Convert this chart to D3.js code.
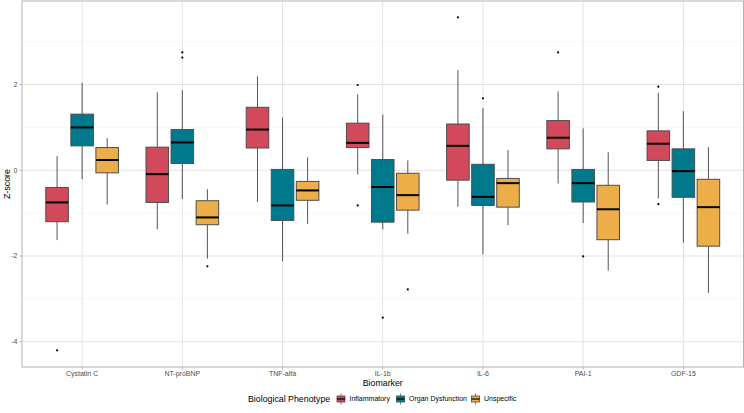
<!DOCTYPE html>
<html><head><meta charset="utf-8">
<script src="https://cdn.jsdelivr.net/npm/d3@7"></script>
<style>body{margin:0;background:#fff;}svg{display:block;font-family:"Liberation Sans",Arial,sans-serif;}</style>
</head><body><svg id="c" width="744" height="413"></svg>
<script>
const categories = ["Cystatin C","NT-proBNP","TNF-alfa","IL-1b","IL-6","PAI-1","GDF-15"];
const groups = ["Inflammatory","Organ Dysfunction","Unspecific"];
const colors = ["#D1495B","#00798C","#EDAE49"];
const yTicks = [-4,-2,0,2];
const yMinor = [-3,-1,1,3];
// stats per category: [lower whisker, q1, median, q3, upper whisker]
const inflammatory = [
  [-1.63,-1.20,-0.75,-0.40,0.33],
  [-1.38,-0.75,-0.09,0.54,1.82],
  [-0.74,0.52,0.95,1.47,2.19],
  [-0.10,0.53,0.64,1.10,1.77],
  [-0.85,-0.23,0.57,1.08,2.34],
  [-0.31,0.50,0.76,1.16,1.84],
  [-0.66,0.23,0.62,0.92,1.81]
];
const organDysfunction = [
  [-0.21,0.57,1.00,1.31,2.04],
  [-0.67,0.16,0.65,0.95,1.87],
  [-2.12,-1.17,-0.82,0.02,1.23],
  [-1.38,-1.21,-0.39,0.25,1.30],
  [-1.96,-0.82,-0.62,0.14,1.45],
  [-1.23,-0.74,-0.30,0.02,0.98],
  [-1.69,-0.63,-0.02,0.50,1.38]
];
const unspecific = [
  [-0.80,-0.06,0.24,0.53,0.75],
  [-2.06,-1.27,-1.10,-0.71,-0.44],
  [-1.25,-0.70,-0.47,-0.26,0.30],
  [-1.48,-0.93,-0.58,-0.07,0.23],
  [-1.28,-0.86,-0.30,-0.19,0.47],
  [-2.34,-1.62,-0.91,-0.35,0.42],
  [-2.86,-1.77,-0.86,-0.21,0.54]
];
const inflammatoryOutliers = [[-4.2],[],[],[1.99,-0.82],[3.57],[2.75],[1.95,-0.79]];
const organOutliers = [[],[2.75,2.63],[],[-3.44],[1.68],[-2.01],[]];
const unspecificOutliers = [[],[-2.24],[],[-2.78],[],[],[]];

const stats = [inflammatory, organDysfunction, unspecific];
const outs = [inflammatoryOutliers, organOutliers, unspecificOutliers];

const svg = d3.select("#c");
const L = 22, R = 743.5, T = 1, B = 367;
const x = d3.scalePoint().domain(categories).range([L, R]).padding(0.6);
const step = x.step();
const xg = d3.scaleBand().domain(groups).range([-step*0.375, step*0.375]);
const bw = xg.bandwidth()*0.9;
const y = d3.scaleLinear().domain([-4.59, 3.95]).range([B, T]);

// grid
const g = svg.append("g");
g.selectAll(".mn").data(yMinor).join("line")
  .attr("x1",L).attr("x2",R).attr("y1",d=>y(d)).attr("y2",d=>y(d))
  .attr("stroke","#EFEFEF").attr("stroke-width",0.5);
g.selectAll(".mj").data(yTicks).join("line")
  .attr("x1",L).attr("x2",R).attr("y1",d=>y(d)).attr("y2",d=>y(d))
  .attr("stroke","#E3E3E3").attr("stroke-width",1);
g.selectAll(".vx").data(categories).join("line")
  .attr("x1",d=>x(d)).attr("x2",d=>x(d)).attr("y1",T).attr("y2",B)
  .attr("stroke","#E3E3E3").attr("stroke-width",1);

// boxes
groups.forEach((grp, gi) => {
  const gg = svg.append("g");
  categories.forEach((cat, ci) => {
    const s = stats[gi][ci];
    const cx = x(cat) + xg(grp) + xg.bandwidth()/2;
    gg.append("line").attr("x1",cx).attr("x2",cx).attr("y1",y(s[4])).attr("y2",y(s[3]))
      .attr("stroke","#555").attr("stroke-width",1);
    gg.append("line").attr("x1",cx).attr("x2",cx).attr("y1",y(s[1])).attr("y2",y(s[0]))
      .attr("stroke","#555").attr("stroke-width",1);
    gg.append("rect").attr("x",cx-bw/2).attr("width",bw).attr("y",y(s[3])).attr("height",y(s[1])-y(s[3]))
      .attr("fill",colors[gi]).attr("stroke","#4D4D4D").attr("stroke-width",1);
    gg.append("line").attr("x1",cx-bw/2).attr("x2",cx+bw/2).attr("y1",y(s[2])).attr("y2",y(s[2]))
      .attr("stroke","#000").attr("stroke-width",2);
    outs[gi][ci].forEach(v => {
      gg.append("circle").attr("cx",cx).attr("cy",y(v)).attr("r",1.1).attr("fill","#000");
    });
  });
});

// border
svg.append("rect").attr("x",L).attr("y",T).attr("width",R-L).attr("height",B-T)
  .attr("fill","none").attr("stroke","#B3B3B3").attr("stroke-width",1);

// axes ticks and labels
svg.selectAll(".yt").data(yTicks).join("line").attr("x1",L-2.5).attr("x2",L).attr("y1",d=>y(d)).attr("y2",d=>y(d))
  .attr("stroke","#B3B3B3");
svg.selectAll(".yl").data(yTicks).join("text").attr("x",L-4.5).attr("y",d=>y(d)).attr("dy","0.35em")
  .attr("text-anchor","end").attr("font-size",7).attr("fill","#4D4D4D").text(d=>d);
svg.selectAll(".xt").data(categories).join("line").attr("x1",d=>x(d)).attr("x2",d=>x(d)).attr("y1",B).attr("y2",B+2.5)
  .attr("stroke","#B3B3B3");
svg.selectAll(".xl").data(categories).join("text").attr("x",d=>x(d)).attr("y",B+8.5)
  .attr("text-anchor","middle").attr("font-size",7).attr("fill","#4D4D4D").text(d=>d);
svg.append("text").attr("x",(L+R)/2).attr("y",385.5).attr("text-anchor","middle")
  .attr("font-size",8.8).attr("fill","#000").text("Biomarker");
svg.append("text").attr("transform",`translate(10,${(T+B)/2}) rotate(-90)`).attr("text-anchor","middle")
  .attr("font-size",8.8).attr("fill","#000").text("Z-score");

// legend
const lg = svg.append("g");
lg.append("text").attr("x",248).attr("y",402).attr("font-size",8.8).attr("fill","#000").text("Biological Phenotype");
const keyX = [337, 396.5, 471.5];
groups.forEach((grp, gi) => {
  const kx = keyX[gi], ky = 399;
  lg.append("line").attr("x1",kx+4).attr("x2",kx+4).attr("y1",ky-5.5).attr("y2",ky+5.5).attr("stroke","#555").attr("stroke-width",0.8);
  lg.append("rect").attr("x",kx).attr("y",ky-3).attr("width",8).attr("height",6)
    .attr("fill",colors[gi]).attr("stroke","#4D4D4D").attr("stroke-width",0.8);
  lg.append("line").attr("x1",kx).attr("x2",kx+8).attr("y1",ky).attr("y2",ky).attr("stroke","#000").attr("stroke-width",1.2);
  lg.append("text").attr("x",kx+12.5).attr("y",ky).attr("dy","0.35em").attr("font-size",7).attr("fill","#000").text(grp);
});
</script></body></html>
